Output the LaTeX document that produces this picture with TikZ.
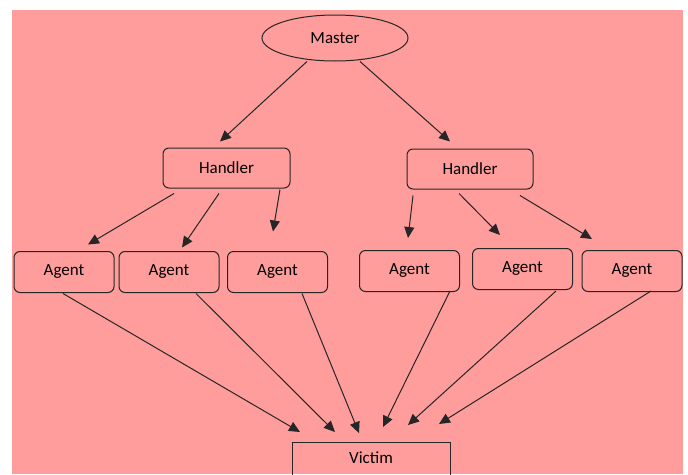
\documentclass[tikz,border=0pt]{standalone}
\usepackage{fontspec}
\setmainfont{Carlito}
\usepackage{tikz}
\usetikzlibrary{arrows.meta, calc, positioning, shapes.geometric}
\definecolor{rosa}{HTML}{FF9C9C}
\definecolor{linie}{HTML}{262626}

\begin{document}
\begin{tikzpicture}[
        x=1pt, y=-1pt,
        font=\fontsize{17}{20}\selectfont,
        box/.style={draw=linie, line width=1pt, rounded corners=6pt,
                     minimum width=100pt, minimum height=41pt, inner sep=0pt},
        oval/.style={draw=linie, line width=1pt, ellipse,
                     minimum width=146pt, minimum height=46pt, inner sep=0pt},
        arr/.style={-{Triangle[length=11pt,width=10pt]}, line width=1pt, draw=linie}
      ]
      \useasboundingbox (0,0) rectangle (688,474);
      \clip (0,0) rectangle (688,474);
      \fill[rosa] (12,10) rectangle (683,474);

      \node[oval] (master) at (335,38) {Master};
      \node[box, minimum width=127pt, minimum height=40pt] (hl) at (226.5,168) {Handler};
      \node[box, minimum width=126pt, minimum height=40pt] (hr) at (470,169) {Handler};

      \node[box] (a1) at (64,272)    {Agent};
      \node[box] (a2) at (169,272)   {Agent};
      \node[box] (a3) at (277.5,272) {Agent};
      \node[box] (a4) at (409.5,271) {Agent};
      \node[box] (a5) at (522.5,269) {Agent};
      \node[box] (a6) at (632,271)   {Agent};

      % victim box runs off the bottom edge
      \node[draw=linie, line width=1pt, minimum width=158pt, inner sep=0pt,
            text height=21pt, text depth=25pt, anchor=north] (victim) at (371,442) {Victim};

      % master to handlers
      \draw[arr] ($(master.south)+(-28,0)$) -- ($(hl.north)+(-6.5,-6)$);
      \draw[arr] ($(master.south)+(25,0)$)  -- ($(hr.north)+(-20,-7)$);

      % left handler to its agents
      \draw[arr] ($(hl.south)+(-52.5,5)$) -- ($(a1.north)+(24,-6.5)$);
      \draw[arr] ($(hl.south)+(-7.5,5)$)  -- ($(a2.north)+(13,-3.5)$);
      \draw[arr] ($(hl.south)+(53.5,1)$)  -- ($(a3.north)+(-4.5,-19.5)$);

      % right handler to its agents
      \draw[arr] ($(hr.south)+(-57,6)$) -- ($(a4.north)+(-1.5,-12)$);
      \draw[arr] ($(hr.south)+(-11,4)$) -- ($(a5.north)+(-22.5,-13)$);
      \draw[arr] ($(hr.south)+(50,6)$)  -- ($(a6.north)+(-40,-11)$);

      % agents to victim
      \draw[arr] ($(a1.south)+(-1,0.5)$)  -- ($(victim.north)+(-71,-10)$);
      \draw[arr] ($(a2.south)+(27,0.5)$)  -- ($(victim.north)+(-36,-10)$);
      \draw[arr] ($(a3.south)+(24.5,0.5)$) -- ($(victim.north)+(-12,-9)$);
      \draw[arr] ($(a4.south)+(40.5,-1)$) -- ($(victim.north)+(12,-15)$);
      \draw[arr] ($(a5.south)+(33.5,1)$)  -- ($(victim.north)+(37,-17)$);
      \draw[arr] ($(a6.south)+(19,-1)$)   -- ($(victim.north)+(68,-18)$);
    \end{tikzpicture}
\end{document}
